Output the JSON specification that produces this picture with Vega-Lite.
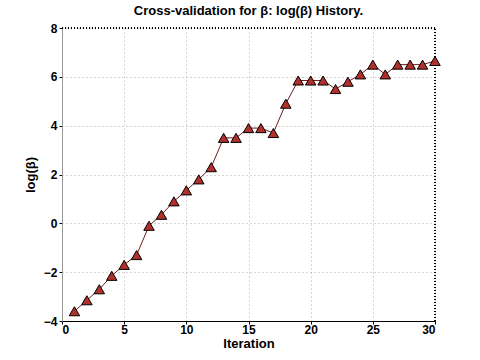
{
  "$schema": "https://vega.github.io/schema/vega-lite/v6.json",
  "autosize": "none",
  "width": 373,
  "height": 293,
  "padding": {"left": 62, "top": 28, "right": 45, "bottom": 39},
  "background": "white",
  "title": {"text": "Cross-validation for β: log(β) History.", "font": "Liberation Sans", "fontSize": 13, "fontWeight": "bold", "color": "black", "offset": 4},
  "config": {"view": {"stroke": null}},
  "data": {"values": [
    {"iteration": 1, "logbeta": -3.6},
    {"iteration": 2, "logbeta": -3.15},
    {"iteration": 3, "logbeta": -2.7},
    {"iteration": 4, "logbeta": -2.15},
    {"iteration": 5, "logbeta": -1.7},
    {"iteration": 6, "logbeta": -1.3},
    {"iteration": 7, "logbeta": -0.1},
    {"iteration": 8, "logbeta": 0.35},
    {"iteration": 9, "logbeta": 0.9},
    {"iteration": 10, "logbeta": 1.35},
    {"iteration": 11, "logbeta": 1.8},
    {"iteration": 12, "logbeta": 2.3},
    {"iteration": 13, "logbeta": 3.5},
    {"iteration": 14, "logbeta": 3.5},
    {"iteration": 15, "logbeta": 3.9},
    {"iteration": 16, "logbeta": 3.9},
    {"iteration": 17, "logbeta": 3.7},
    {"iteration": 18, "logbeta": 4.9},
    {"iteration": 19, "logbeta": 5.85},
    {"iteration": 20, "logbeta": 5.85},
    {"iteration": 21, "logbeta": 5.85},
    {"iteration": 22, "logbeta": 5.5},
    {"iteration": 23, "logbeta": 5.8},
    {"iteration": 24, "logbeta": 6.1},
    {"iteration": 25, "logbeta": 6.5},
    {"iteration": 26, "logbeta": 6.1},
    {"iteration": 27, "logbeta": 6.5},
    {"iteration": 28, "logbeta": 6.5},
    {"iteration": 29, "logbeta": 6.5},
    {"iteration": 30, "logbeta": 6.65}
  ]},
  "encoding": {
    "x": {"field": "iteration", "type": "quantitative",
      "scale": {"domain": [0, 30], "nice": false, "zero": false},
      "axis": {"title": "Iteration", "values": [0, 5, 10, 15, 20, 25, 30], "grid": true, "gridDash": [1, 3], "gridColor": "#aaa", "gridOpacity": 1,
        "domainColor": "black", "tickColor": "black", "tickSize": 3, "labelFont": "Liberation Sans", "labelFontSize": 12, "labelFontWeight": "bold", "labelColor": "black", "labelPadding": 0,
        "titleFont": "Liberation Sans", "titleFontSize": 13, "titleFontWeight": "bold", "titleColor": "black", "titlePadding": 2, "titleBaseline": "top"}},
    "y": {"field": "logbeta", "type": "quantitative",
      "scale": {"domain": [-4, 8], "nice": false, "zero": false},
      "axis": {"title": "log(β)", "values": [-4, -2, 0, 2, 4, 6, 8], "grid": true, "gridDash": [1, 3], "gridColor": "#aaa", "gridOpacity": 1,
        "domainColor": "#999", "tickColor": "black", "tickSize": 3, "labelFont": "Liberation Sans", "labelFontSize": 12, "labelFontWeight": "bold", "labelColor": "black", "labelPadding": 2,
        "titleFont": "Liberation Sans", "titleFontSize": 13, "titleFontWeight": "bold", "titleColor": "black", "titlePadding": 6}}
  },
  "layer": [
    {"mark": {"type": "rule", "strokeDash": [1, 2], "color": "black"}, "encoding": {"x": {"datum": 30}, "y": {"datum": -4}, "y2": {"datum": 8}}},
    {"mark": {"type": "rule", "strokeDash": [1, 2], "color": "black"}, "encoding": {"y": {"datum": 8}, "x": {"datum": 0}, "x2": {"datum": 30}}},
    {"mark": {"type": "line", "color": "#6b1e1e", "strokeWidth": 1}},
    {"mark": {"type": "point", "shape": "triangle-up", "filled": true, "size": 110, "fill": "#b0302c", "stroke": "black", "strokeWidth": 1, "opacity": 1}}
  ]
}
